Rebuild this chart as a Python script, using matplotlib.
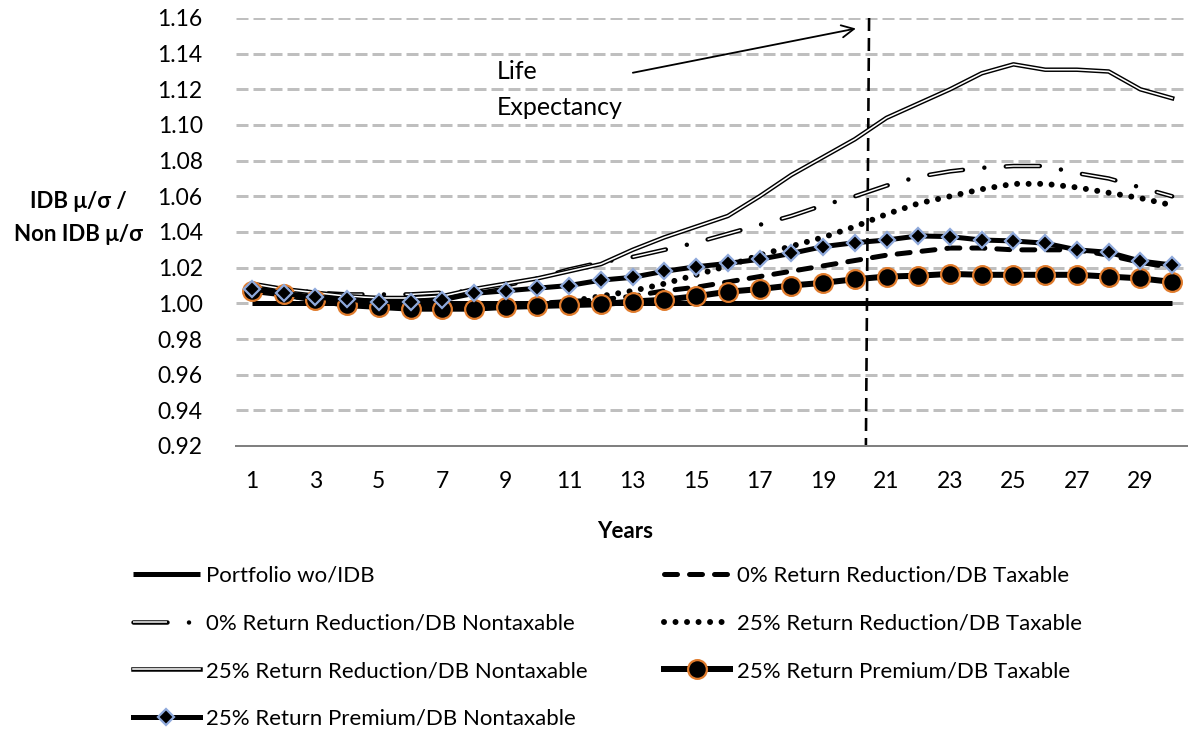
import numpy as np
import matplotlib
matplotlib.use("Agg")
import matplotlib.pyplot as plt

plt.rcParams['font.family'] = ['Lato', 'DejaVu Sans']
plt.rcParams['lines.scale_dashes'] = False

years = list(range(1, 31))

portfolio = [1.0] * 30
red0_tax = [1.008, 1.005, 1.003, 1.001, 1.000, 0.999, 0.999, 0.999, 0.999, 1.000,
            1.001, 1.002, 1.004, 1.007, 1.009, 1.012, 1.015, 1.018, 1.021, 1.024,
            1.027, 1.029, 1.031, 1.031, 1.030, 1.030, 1.030, 1.027, 1.023, 1.020]
red0_ntax = [1.010, 1.008, 1.006, 1.005, 1.005, 1.005, 1.006, 1.007, 1.010, 1.014,
             1.019, 1.023, 1.026, 1.030, 1.034, 1.039, 1.044, 1.049, 1.055, 1.060,
             1.066, 1.071, 1.074, 1.076, 1.077, 1.077, 1.073, 1.070, 1.065, 1.060]
red25_tax = [1.008, 1.005, 1.002, 1.000, 0.999, 0.998, 0.998, 0.998, 0.998, 0.999,
             1.001, 1.004, 1.007, 1.011, 1.016, 1.021, 1.027, 1.032, 1.037, 1.043,
             1.050, 1.056, 1.060, 1.064, 1.067, 1.067, 1.065, 1.062, 1.059, 1.055]
red25_ntax = [1.011, 1.008, 1.006, 1.004, 1.003, 1.003, 1.004, 1.008, 1.011, 1.014,
              1.018, 1.022, 1.030, 1.037, 1.043, 1.049, 1.060, 1.072, 1.082, 1.092,
              1.104, 1.112, 1.120, 1.129, 1.134, 1.131, 1.131, 1.130, 1.120, 1.115]
prem25_tax = [1.007, 1.005, 1.002, 0.999, 0.998, 0.997, 0.997, 0.997, 0.998, 0.9985,
              0.999, 0.9995, 1.001, 1.002, 1.004, 1.0065, 1.008, 1.010, 1.0115, 1.0135,
              1.015, 1.0155, 1.0165, 1.016, 1.016, 1.016, 1.016, 1.015, 1.014, 1.012]
prem25_ntax = [1.008, 1.0056, 1.0034, 1.0022, 1.001, 1.001, 1.002, 1.0056, 1.007, 1.0085,
               1.010, 1.013, 1.0146, 1.018, 1.0205, 1.0224, 1.0247, 1.028, 1.0318, 1.034,
               1.0355, 1.0378, 1.0374, 1.0355, 1.035, 1.0337, 1.030, 1.0286, 1.0237, 1.0215]

labels = ["Portfolio wo/IDB", "0% Return Reduction/DB Taxable",
          "0% Return Reduction/DB Nontaxable", "25% Return Reduction/DB Taxable",
          "25% Return Reduction/DB Nontaxable", "25% Return Premium/DB Taxable",
          "25% Return Premium/DB Nontaxable"]

life_exp = 20.4
yticks = np.round(np.arange(0.92, 1.1601, 0.02), 2)
xticks = list(range(1, 30, 2))

PX = 72 / 100.0  # pixels -> points

fig = plt.figure(figsize=(11.88, 7.34), dpi=100)
ax = fig.add_axes([236 / 1188, 1 - 446 / 734, 952 / 1188, 428 / 734])

# gridlines (dashed grey)
for y in yticks[1:]:
    ax.axhline(y, color='#BFBFBF', lw=3 * PX, dashes=(12 * PX, 5 * PX), zorder=1)

# life expectancy marker
ax.plot([life_exp + 0.05, life_exp - 0.05], [1.16, 0.92], color='black', lw=2.6 * PX,
        dashes=(13 * PX, 7 * PX), zorder=2)

h_port, = ax.plot(years, portfolio, color='black', lw=5 * PX, solid_capstyle='butt', zorder=3)

h_r0t, = ax.plot(years, red0_tax, color='black', lw=5 * PX, dash_capstyle='round',
                 dashes=(13 * PX, 12 * PX), zorder=3)

# double line, dash-dot
b1, = ax.plot(years, red0_ntax, color='black', lw=4.5 * PX, dash_capstyle='round',
              dashes=(34 * PX, 21.5 * PX, 0.01, 21.5 * PX), zorder=3)
w1, = ax.plot(years, red0_ntax, color='white', lw=1.5 * PX, dash_capstyle='butt',
              dashes=(34 * PX, 43 * PX), zorder=3)

h_r25t, = ax.plot(years, red25_tax, color='black', lw=6 * PX, dash_capstyle='round',
                  dashes=(0.01, 11.5 * PX), zorder=3)

# double line, solid
b2, = ax.plot(years, red25_ntax, color='black', lw=4.5 * PX, zorder=3)
w2, = ax.plot(years, red25_ntax, color='white', lw=1.6 * PX, zorder=3)

h_p25t, = ax.plot(years, prem25_tax, color='black', lw=6 * PX, marker='o', ms=13.5,
                  mfc='black', mec='#E07B2C', mew=1.6, zorder=4)
h_p25n, = ax.plot(years, prem25_ntax, color='black', lw=5 * PX, marker='D', ms=8,
                  mfc='black', mec='#8EA9DB', mew=1.6, zorder=5)

ax.set_xlim(0.5, 30.5)
ax.set_ylim(0.92, 1.16)
ax.set_yticks(yticks)
ax.set_yticklabels(['%.2f' % v for v in yticks])
ax.set_xticks(xticks)
ax.tick_params(length=0, labelsize=16.5)
ax.tick_params(axis='y', pad=24)
ax.tick_params(axis='x', pad=18)
for s in ['top', 'right', 'left']:
    ax.spines[s].set_visible(False)
ax.spines['bottom'].set_color('#808080')
ax.spines['bottom'].set_linewidth(2 * PX)

fig.text(625 / 1188, 1 - 532 / 734, 'Years', fontsize=16, fontweight='bold',
         ha='center', va='center')
fig.text(78 / 1188, 1 - 218 / 734, 'IDB \u03bc/\u03c3 /\nNon IDB \u03bc/\u03c3', fontsize=16,
         fontweight='bold', ha='center', va='center', linespacing=1.7)

ax.text(8.73, 1.1258, 'Life', fontsize=18, va='baseline', ha='left')
ax.text(8.73, 1.1056, 'Expectancy', fontsize=18, va='baseline', ha='left')
ax.annotate('', xy=(20.12, 1.1544), xytext=(12.92, 1.129),
            arrowprops=dict(arrowstyle='->', color='black', lw=1.3, mutation_scale=22))

handles = [h_port, (b1, w1), (b2, w2), h_p25n, h_r0t, h_r25t, h_p25t]
order_labels = [labels[0], labels[2], labels[4], labels[6], labels[1], labels[3], labels[5]]
fig.legend(handles, order_labels, loc='upper left', bbox_to_anchor=(133 / 1188, 1 - 566 / 734),
           ncol=2, frameon=False, fontsize=16, handlelength=3.0, handletextpad=0.3,
           labelspacing=1.24, columnspacing=3.4, borderpad=0, borderaxespad=0)

fig.savefig('out.png', dpi=100)
